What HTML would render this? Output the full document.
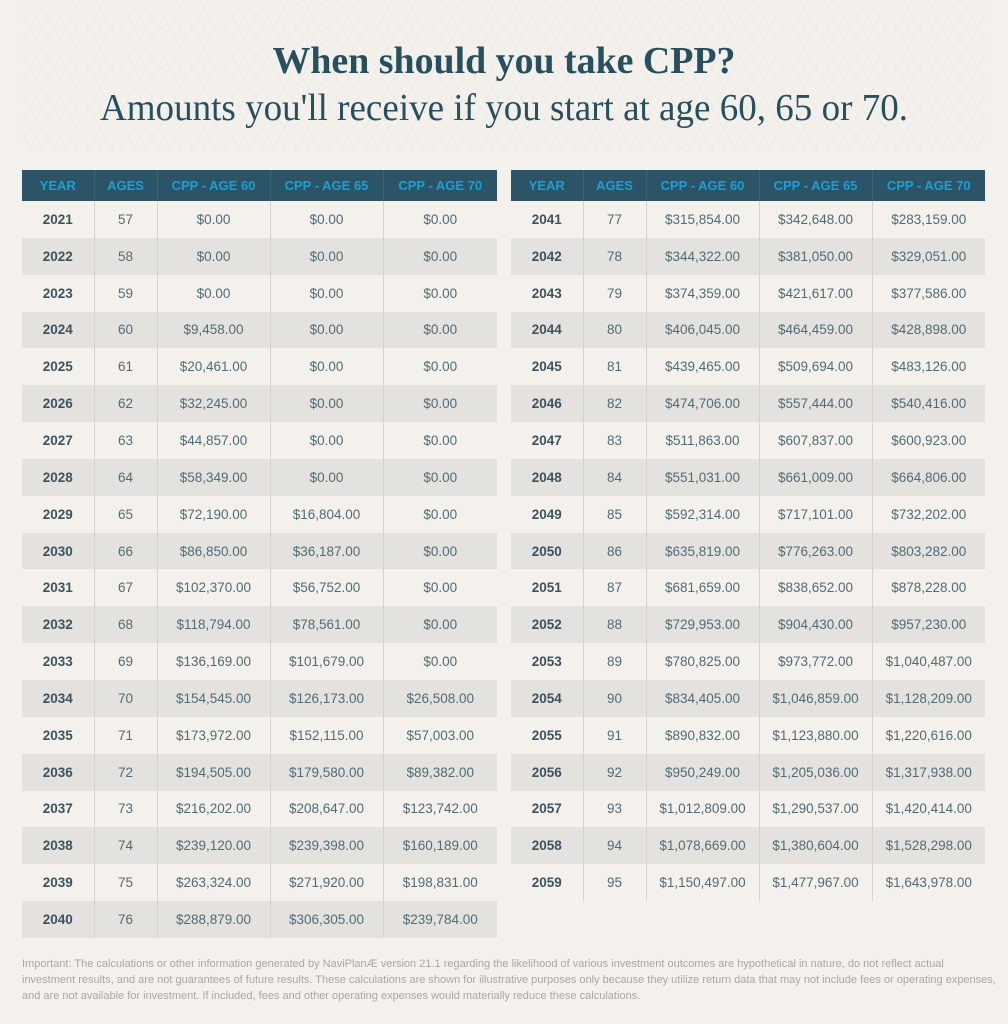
<!DOCTYPE html>
<html><head><meta charset="utf-8"><style>
html,body{margin:0;padding:0}
body{width:1008px;height:1024px;background:#f4f1ec;position:relative;overflow:hidden;font-family:"Liberation Sans",sans-serif}
.bgp{position:absolute;left:22px;top:0;width:964px;height:152px;background:repeating-linear-gradient(60deg,rgba(0,0,0,0) 0 9px,rgba(225,221,214,.5) 9px 10px),repeating-linear-gradient(-60deg,rgba(0,0,0,0) 0 9px,rgba(225,221,214,.5) 9px 10px);opacity:.6}
svg.t{position:absolute;left:0;top:0}
table{position:absolute;top:170px;border-collapse:collapse;table-layout:fixed;font-size:13px}
th{background:#2b5466;color:#1a9fd6;font-weight:bold;height:31px;padding:0;border-left:1px solid #3b6475;font-size:13px}
th:first-child{border-left:none}
td{height:36.85px;padding:0;text-align:center;color:#4f6b78;border-left:1px solid #d6d3ce;font-size:13.5px}
td:first-child{border-left:none;font-weight:bold;color:#3b5360}
tr:nth-child(odd) td{background:#e4e2de}
.l{left:22px;width:475px}.r{left:511px;width:474px}
.foot{position:absolute;left:22px;top:956px;width:990px;font-size:11px;line-height:16px;color:#a9a7a3;white-space:nowrap}
</style></head><body>
<div class="bgp"></div>
<svg class="t" width="1008" height="160">
<text x="504" y="73" text-anchor="middle" font-family="Liberation Serif,serif" font-weight="bold" font-size="38" fill="#27505f" textLength="463" lengthAdjust="spacingAndGlyphs">When should you take CPP?</text>
<text x="504" y="120" text-anchor="middle" font-family="Liberation Serif,serif" font-size="38" fill="#27505f" textLength="808" lengthAdjust="spacingAndGlyphs">Amounts you'll receive if you start at age 60, 65 or 70.</text>
</svg>
<table class="l"><colgroup><col style="width:72px"><col style="width:63px"><col style="width:113px"><col style="width:113px"><col style="width:114px"></colgroup>
<tr><th>YEAR</th><th>AGES</th><th>CPP - AGE 60</th><th>CPP - AGE 65</th><th>CPP - AGE 70</th></tr>
<tr><td>2021</td><td>57</td><td>$0.00</td><td>$0.00</td><td>$0.00</td></tr>
<tr><td>2022</td><td>58</td><td>$0.00</td><td>$0.00</td><td>$0.00</td></tr>
<tr><td>2023</td><td>59</td><td>$0.00</td><td>$0.00</td><td>$0.00</td></tr>
<tr><td>2024</td><td>60</td><td>$9,458.00</td><td>$0.00</td><td>$0.00</td></tr>
<tr><td>2025</td><td>61</td><td>$20,461.00</td><td>$0.00</td><td>$0.00</td></tr>
<tr><td>2026</td><td>62</td><td>$32,245.00</td><td>$0.00</td><td>$0.00</td></tr>
<tr><td>2027</td><td>63</td><td>$44,857.00</td><td>$0.00</td><td>$0.00</td></tr>
<tr><td>2028</td><td>64</td><td>$58,349.00</td><td>$0.00</td><td>$0.00</td></tr>
<tr><td>2029</td><td>65</td><td>$72,190.00</td><td>$16,804.00</td><td>$0.00</td></tr>
<tr><td>2030</td><td>66</td><td>$86,850.00</td><td>$36,187.00</td><td>$0.00</td></tr>
<tr><td>2031</td><td>67</td><td>$102,370.00</td><td>$56,752.00</td><td>$0.00</td></tr>
<tr><td>2032</td><td>68</td><td>$118,794.00</td><td>$78,561.00</td><td>$0.00</td></tr>
<tr><td>2033</td><td>69</td><td>$136,169.00</td><td>$101,679.00</td><td>$0.00</td></tr>
<tr><td>2034</td><td>70</td><td>$154,545.00</td><td>$126,173.00</td><td>$26,508.00</td></tr>
<tr><td>2035</td><td>71</td><td>$173,972.00</td><td>$152,115.00</td><td>$57,003.00</td></tr>
<tr><td>2036</td><td>72</td><td>$194,505.00</td><td>$179,580.00</td><td>$89,382.00</td></tr>
<tr><td>2037</td><td>73</td><td>$216,202.00</td><td>$208,647.00</td><td>$123,742.00</td></tr>
<tr><td>2038</td><td>74</td><td>$239,120.00</td><td>$239,398.00</td><td>$160,189.00</td></tr>
<tr><td>2039</td><td>75</td><td>$263,324.00</td><td>$271,920.00</td><td>$198,831.00</td></tr>
<tr><td>2040</td><td>76</td><td>$288,879.00</td><td>$306,305.00</td><td>$239,784.00</td></tr>
</table>
<table class="r"><colgroup><col style="width:72px"><col style="width:63px"><col style="width:113px"><col style="width:113px"><col style="width:113px"></colgroup>
<tr><th>YEAR</th><th>AGES</th><th>CPP - AGE 60</th><th>CPP - AGE 65</th><th>CPP - AGE 70</th></tr>
<tr><td>2041</td><td>77</td><td>$315,854.00</td><td>$342,648.00</td><td>$283,159.00</td></tr>
<tr><td>2042</td><td>78</td><td>$344,322.00</td><td>$381,050.00</td><td>$329,051.00</td></tr>
<tr><td>2043</td><td>79</td><td>$374,359.00</td><td>$421,617.00</td><td>$377,586.00</td></tr>
<tr><td>2044</td><td>80</td><td>$406,045.00</td><td>$464,459.00</td><td>$428,898.00</td></tr>
<tr><td>2045</td><td>81</td><td>$439,465.00</td><td>$509,694.00</td><td>$483,126.00</td></tr>
<tr><td>2046</td><td>82</td><td>$474,706.00</td><td>$557,444.00</td><td>$540,416.00</td></tr>
<tr><td>2047</td><td>83</td><td>$511,863.00</td><td>$607,837.00</td><td>$600,923.00</td></tr>
<tr><td>2048</td><td>84</td><td>$551,031.00</td><td>$661,009.00</td><td>$664,806.00</td></tr>
<tr><td>2049</td><td>85</td><td>$592,314.00</td><td>$717,101.00</td><td>$732,202.00</td></tr>
<tr><td>2050</td><td>86</td><td>$635,819.00</td><td>$776,263.00</td><td>$803,282.00</td></tr>
<tr><td>2051</td><td>87</td><td>$681,659.00</td><td>$838,652.00</td><td>$878,228.00</td></tr>
<tr><td>2052</td><td>88</td><td>$729,953.00</td><td>$904,430.00</td><td>$957,230.00</td></tr>
<tr><td>2053</td><td>89</td><td>$780,825.00</td><td>$973,772.00</td><td>$1,040,487.00</td></tr>
<tr><td>2054</td><td>90</td><td>$834,405.00</td><td>$1,046,859.00</td><td>$1,128,209.00</td></tr>
<tr><td>2055</td><td>91</td><td>$890,832.00</td><td>$1,123,880.00</td><td>$1,220,616.00</td></tr>
<tr><td>2056</td><td>92</td><td>$950,249.00</td><td>$1,205,036.00</td><td>$1,317,938.00</td></tr>
<tr><td>2057</td><td>93</td><td>$1,012,809.00</td><td>$1,290,537.00</td><td>$1,420,414.00</td></tr>
<tr><td>2058</td><td>94</td><td>$1,078,669.00</td><td>$1,380,604.00</td><td>$1,528,298.00</td></tr>
<tr><td>2059</td><td>95</td><td>$1,150,497.00</td><td>$1,477,967.00</td><td>$1,643,978.00</td></tr>
</table>
<div class="foot">Important: The calculations or other information generated by NaviPlanÆ version 21.1 regarding the likelihood of various investment outcomes are hypothetical in nature, do not reflect actual<br>investment results, and are not guarantees of future results. These calculations are shown for illustrative purposes only because they utilize return data that may not include fees or operating expenses,<br>and are not available for investment. If included, fees and other operating expenses would materially reduce these calculations.</div>
</body></html>
